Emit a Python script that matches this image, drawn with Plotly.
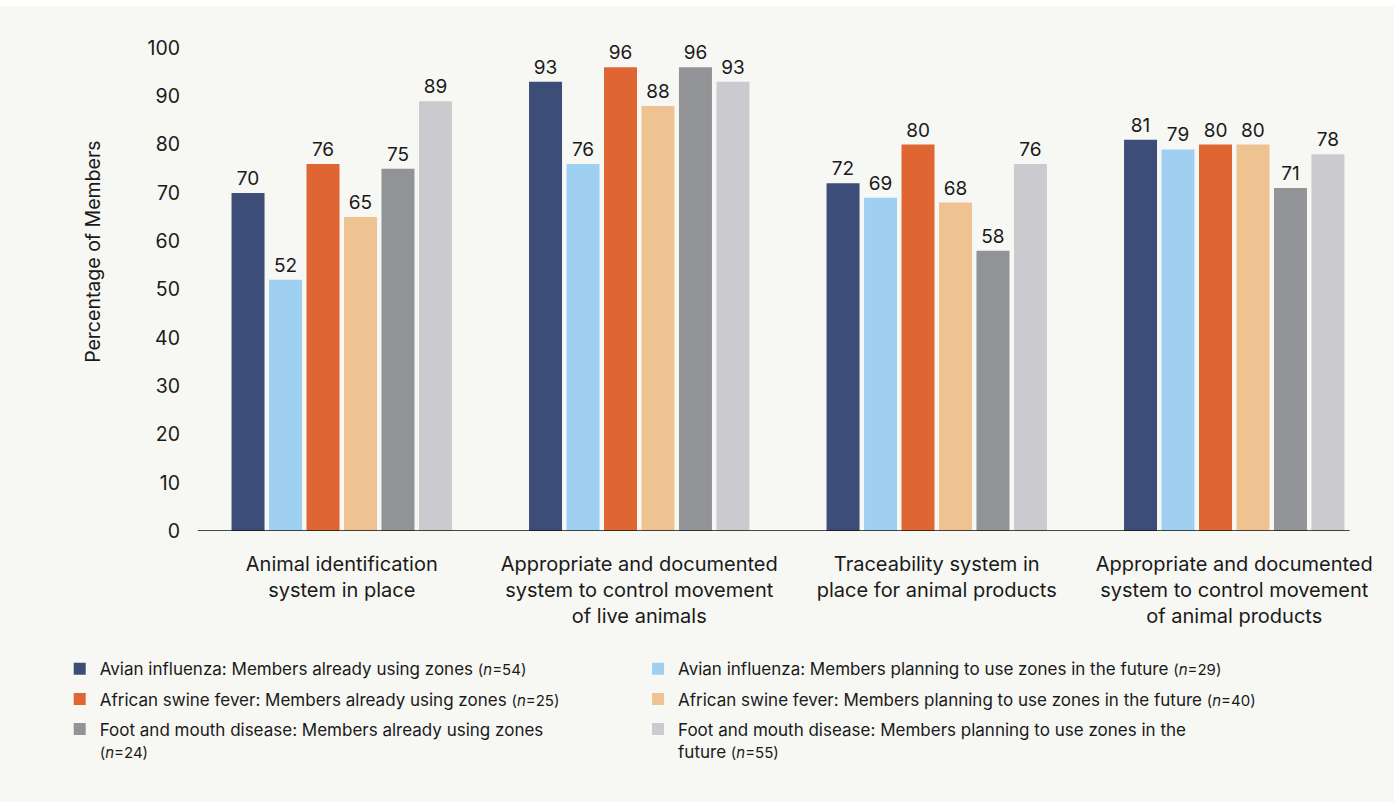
import plotly.graph_objects as go

# Categories (x axis)
categories = [
    "Animal identification<br>system in place",
    "Appropriate and documented<br>system to control movement<br>of live animals",
    "Traceability system in<br>place for animal products",
    "Appropriate and documented<br>system to control movement<br>of animal products",
]

# Series: percentage of Members per category
avian_using = [70, 93, 72, 81]
avian_planning = [52, 76, 69, 79]
asf_using = [76, 96, 80, 80]
asf_planning = [65, 88, 68, 80]
fmd_using = [75, 96, 58, 71]
fmd_planning = [89, 93, 76, 78]

SMALL = "<span style='font-size:15px'>({})</span>"

series = [
    ("Avian influenza: Members already using zones " + SMALL.format("<i>n</i>=54"),
     avian_using, "#3c4e77", "legend"),
    ("Avian influenza: Members planning to use zones in the future " + SMALL.format("<i>n</i>=29"),
     avian_planning, "#9fd0f1", "legend2"),
    ("African swine fever: Members already using zones " + SMALL.format("<i>n</i>=25"),
     asf_using, "#df6633", "legend"),
    ("African swine fever: Members planning to use zones in the future " + SMALL.format("<i>n</i>=40"),
     asf_planning, "#eec391", "legend2"),
    ("Foot and mouth disease: Members already using zones<br>" + SMALL.format("<i>n</i>=24"),
     fmd_using, "#929397", "legend"),
    ("Foot and mouth disease: Members planning to use zones in the<br>future " + SMALL.format("<i>n</i>=55"),
     fmd_planning, "#cbcacf", "legend2"),
]

FONT = "Inter"
TEXT = "#1a1a1a"
BG = "#f7f7f3"

fig = go.Figure()
for i, (name, vals, color, leg) in enumerate(series):
    fig.add_trace(go.Bar(
        x=categories, y=vals, name=name,
        marker=dict(color=color, line=dict(width=0)),
        text=[str(v) for v in vals], textposition="outside",
        textfont=dict(size=19, color=TEXT, family=FONT),
        constraintext="none", cliponaxis=False,
        legend=leg, legendgroup=f"g{i}",
    ))

legend_common = dict(
    orientation="v", valign="top", tracegroupgap=5,
    font=dict(size=17, color=TEXT, family=FONT),
    bgcolor="rgba(0,0,0,0)", borderwidth=0,
    xanchor="left", yanchor="top", itemclick=False, itemdoubleclick=False,
)

fig.update_layout(
    width=1399, height=805,
    margin=dict(l=193, r=16, t=48, b=274),
    paper_bgcolor="white", plot_bgcolor="rgba(0,0,0,0)",
    font=dict(family=FONT, size=18, color=TEXT),
    barmode="group", bargap=0.244, bargroupgap=0.12,
    showlegend=True,
    legend=dict(x=-0.112, y=-0.249, **legend_common),
    legend2=dict(x=0.374, y=-0.249, **legend_common),
    xaxis=dict(
        showgrid=False, showline=False, ticks="", zeroline=False,
        tickfont=dict(size=20, color=TEXT, family=FONT),
        ticklabelstandoff=19,
    ),
    yaxis=dict(
        range=[0, 100], dtick=10, showgrid=False, zeroline=False,
        showline=False, ticks="",
        tickfont=dict(size=19.5, color=TEXT, family=FONT),
        ticklabelstandoff=12,
    ),
    shapes=[
        # panel background inside the white frame
        dict(type="rect", xref="paper", yref="paper", layer="below",
             x0=-0.1622, x1=1.0092, y0=-0.561, y1=1.087,
             fillcolor=BG, line=dict(width=0)),
        # baseline
        dict(type="line", xref="paper", yref="y", layer="above",
             x0=0.004, x1=0.972, y0=0, y1=0,
             line=dict(color="#111111", width=1.5)),
    ],
    annotations=[
        dict(text="Percentage of Members", xref="paper", yref="paper",
             x=-0.084, y=0.578, textangle=-90, showarrow=False,
             xanchor="center", yanchor="middle",
             font=dict(size=19.5, color=TEXT, family=FONT)),
    ],
)

fig.write_html("out.html")
